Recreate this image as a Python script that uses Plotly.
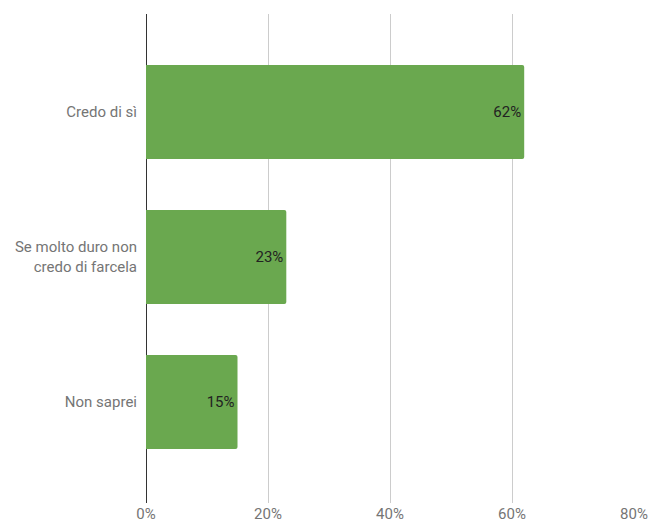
import plotly.graph_objects as go

categories = ["Credo di sì", "Se molto duro non<br>credo di farcela", "Non saprei"]
values = [0.62, 0.23, 0.15]
labels = ["62%", "23%", "15%"]
x_ticks = [0, 0.2, 0.4, 0.6, 0.8]
x_tick_labels = ["0%", "20%", "40%", "60%", "80%"]

fig = go.Figure(go.Bar(
    x=values, y=categories, orientation="h",
    marker=dict(color="#6aa84f", line=dict(width=0), cornerradius=2),
    text=labels, textposition="inside", insidetextanchor="end",
    textfont=dict(family="Roboto", size=15, color="#222222"),
    width=0.648,
))

fig.update_layout(
    width=649, height=524,
    margin=dict(l=146, r=15, t=14, b=21, autoexpand=False),
    paper_bgcolor="white", plot_bgcolor="white",
    font=dict(family="Roboto", size=15, color="#757575"),
    showlegend=False,
    xaxis=dict(range=[0, 0.8], tickvals=x_ticks, ticktext=x_tick_labels,
               showgrid=True, gridcolor="#cccccc", gridwidth=1,
               zeroline=True, zerolinecolor="#333333", zerolinewidth=1,
               showline=False, ticks="", fixedrange=True, automargin=False,
               tickfont=dict(size=15, color="#757575")),
    yaxis=dict(range=[2.697, -0.676], showgrid=False, zeroline=False,
               showline=False, ticks="", ticklabelstandoff=8, automargin=False,
               fixedrange=True,
               tickfont=dict(size=15, color="#757575")),
)

fig.write_html("out.html", config={"displayModeBar": False, "staticPlot": True},
               post_script="document.body.style.margin='0';document.body.style.overflow='hidden';")
